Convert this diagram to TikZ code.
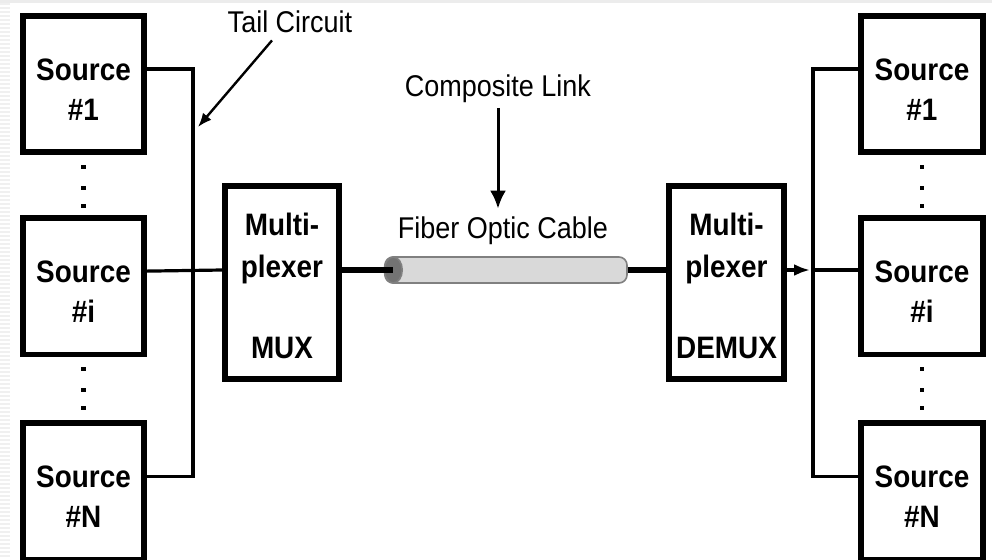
\documentclass[tikz,border=0pt]{standalone}
\usepackage{fontspec}
\setmainfont{Liberation Sans}[FakeStretch=0.9]
\usetikzlibrary{arrows.meta,calc,positioning}

\tikzset{
  srcbox/.style={draw,line width=2.8pt,minimum width=60.75pt,minimum height=68.25pt,inner sep=0pt,align=center,font=\fontsize{15.5}{20}\selectfont\bfseries},
  muxbox/.style={draw,line width=2.8pt,minimum width=57.25pt,minimum height=96.75pt,inner sep=0pt,align=center,font=\fontsize{15.5}{21}\selectfont\bfseries},
  wire/.style={line width=1.6pt},
  trunk/.style={line width=3.4pt},
  lbl/.style={inner sep=0pt,font=\fontsize{15}{18}\selectfont},
  dot/.style={fill=black,inner sep=0pt,minimum size=2.2pt}
}
\newcommand{\srclabel}[1]{\rule{0pt}{16.5pt}Source\\\##1}
\newcommand{\muxlabel}[1]{\rule{0pt}{14.5pt}Multi-\\plexer\\[19.5pt]#1}

\begin{document}
\begin{tikzpicture}[x=0.5pt,y=-0.5pt,>=Latex]
\useasboundingbox (0,0) rectangle (992,559);
% slide edge
\fill[gray!12] (0,0) rectangle (10,559);
\foreach \k in {2,6,...,558} \draw[white,line width=0.6pt] (0,\k) -- (10,\k);
\fill[gray!15] (0,0) rectangle (992,3);

% sources (left)
\node[srcbox] (s1) at (83.5,84) {\srclabel{1}};
\node[srcbox,below=30pt of s1] (si) {\srclabel{i}};
\node[srcbox,below=31.5pt of si] (sN) {\srclabel{N}};
% sources (right)
\node[srcbox] (r1) at (922,84) {\srclabel{1}};
\node[srcbox,below=30pt of r1] (ri) {\srclabel{i}};
\node[srcbox,below=31.5pt of ri] (rN) {\srclabel{N}};

\foreach \a/\b in {s1/si,si/sN,r1/ri,ri/rN}
  \foreach \d in {12,33,51}
    \node[dot] at ($(\a.south)+(0,\d)$) {};

% multiplexers
\node[muxbox] (mux) at (282,282.5) {\muxlabel{MUX}};
\node[muxbox] (demux) at (726.5,282.5) {\muxlabel{DEMUX}};

% fiber cable
\node[draw=gray,fill=gray!30,line width=0.8pt,rounded corners=4pt,minimum width=121pt,minimum height=13pt,inner sep=0pt] (cable) at (506,270) {};
\coordinate (capc) at ($(cable.west)+(9,0)$);
\filldraw[fill=black!55,draw=gray,line width=0.8pt] (capc) ellipse (4.5pt and 6.5pt);

\coordinate (lbus) at (193,270);
\coordinate (rbus) at (813,270);

% tail circuits
\draw[wire] ([yshift=7.5pt]s1.east) -| (lbus) |- ([yshift=7.5pt]sN.east);
\draw[wire] ([yshift=7.5pt]si.east) -- (mux.west |- cable.west);
\draw[wire] ([yshift=7.5pt]r1.west) -| (rbus) |- ([yshift=7.5pt]rN.west);
\draw[wire,-{Latex[length=8pt,width=6pt]},shorten >=1.5pt] (demux.east |- cable.east) -- (rbus);
\draw[wire] (rbus) -- (ri.west |- rbus);

% composite link
\draw[trunk] (mux.east |- cable.west) -- (capc);
\draw[trunk] (cable.east) -- (demux.west |- cable.east);

% labels
\node[lbl] (tail) at (290,22) {Tail Circuit};
\node[lbl] (complink) at (498,88.5) {Composite Link};
\node[lbl] (fibertxt) at (503,231) {Fiber Optic Cable};
\coordinate (tailtip) at (198,127);
\draw[line width=1.2pt,-{Latex[length=7pt,width=5.5pt]}] ($(tail.south)+(-18,7)$) -- (tailtip);
\draw[line width=1.5pt,-{Latex[length=9pt,width=8pt]},shorten <=2.5pt,shorten >=4pt] (complink.south) -- (complink.south |- fibertxt.north);
\end{tikzpicture}
\end{document}
